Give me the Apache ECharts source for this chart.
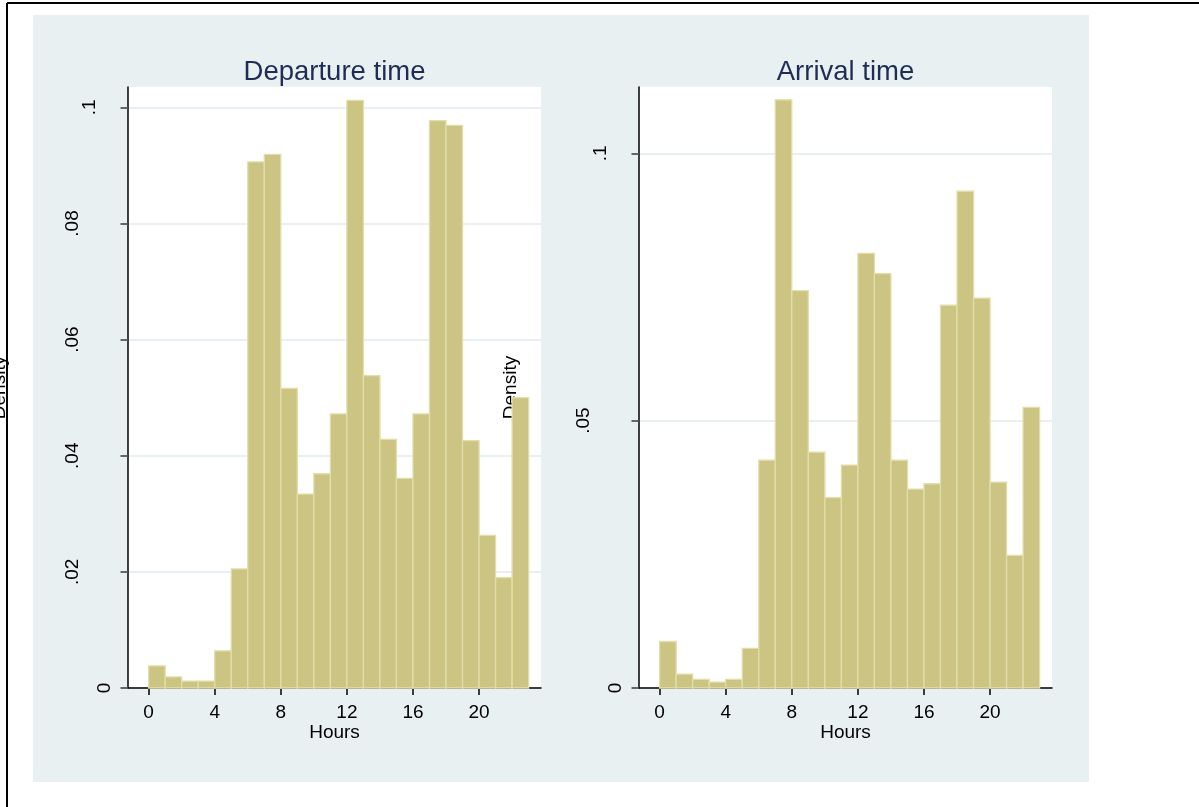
<!DOCTYPE html>
<html>
<head>
<meta charset="utf-8">
<script src="https://cdn.jsdelivr.net/npm/echarts@6/dist/echarts.min.js"></script>
<style>
  html, body { margin: 0; padding: 0; background: #ffffff; }
  #chart { width: 1199px; height: 807px; }
</style>
</head>
<body>
<div id="chart"></div>
<script>
// Hour bins: each bar covers [binEdges[i], binEdges[i + 1])
const binEdges = [0, 1, 2, 3, 4, 5, 6, 7, 8, 9, 10, 11, 12, 13, 14, 15, 16, 17, 18, 19, 20, 21, 22, 23];

// Density of trips per hour bin
const departureDensity = [0.0038, 0.0019, 0.0012, 0.0012, 0.0064, 0.0205, 0.0906, 0.0919, 0.0516, 0.0334, 0.0369, 0.0472,
                          0.1012, 0.0538, 0.0428, 0.0361, 0.0472, 0.0977, 0.0969, 0.0426, 0.0263, 0.0190, 0.0500];
const arrivalDensity   = [0.0087, 0.0026, 0.0016, 0.0011, 0.0016, 0.0074, 0.0426, 0.1100, 0.0743, 0.0441, 0.0356, 0.0417,
                          0.0813, 0.0775, 0.0426, 0.0372, 0.0382, 0.0716, 0.0929, 0.0729, 0.0385, 0.0248, 0.0525];

// Tick values
const hourTicks = [0, 4, 8, 12, 16, 20];
const departureTicks = [0, 0.02, 0.04, 0.06, 0.08, 0.1];
const arrivalTicks = [0, 0.05, 0.1];

// Text
const panelTitles = ['Departure time', 'Arrival time'];
const xTitle = 'Hours';
const yTitle = 'Density';

const FONT = 'Liberation Sans, Arial, Helvetica, sans-serif';
const BAR_FILL = '#CBC483';
const BAR_EDGE = '#E2DEA9';
const PANEL = '#E9F0F2';
const GRIDLINE = '#E9F0F3';

// Stata-style labels: ".1", ".08", "0"; rotated labels step outward with their length
function tickText(v) {
  const s = v === 0 ? '0' : String(+v.toFixed(4)).replace(/^0\./, '.');
  return '{c' + s.length + '|' + s + '}';
}
const tickRich = {
  c1: { lineHeight: 22, fontSize: 19, fontFamily: FONT, color: '#000' },
  c2: { lineHeight: 52, fontSize: 19, fontFamily: FONT, color: '#000' },
  c3: { lineHeight: 86, fontSize: 19, fontFamily: FONT, color: '#000' }
};

function binData(values) {
  return values.map((v, i) => [binEdges[i], binEdges[i + 1], v]);
}

function renderBar(params, api) {
  const top = api.coord([api.value(0), api.value(2)]);
  const base = api.coord([api.value(1), 0]);
  return {
    type: 'rect',
    shape: { x: top[0], y: top[1], width: base[0] - top[0], height: base[1] - top[1] },
    style: { fill: BAR_FILL, stroke: BAR_EDGE, lineWidth: 1.3 }
  };
}

const grids = [
  { left: 128, top: 87, width: 413, height: 601 },
  { left: 639, top: 87, width: 413, height: 601 }
].map(g => Object.assign(g, {
  show: true, backgroundColor: '#ffffff', borderWidth: 0,
  containLabel: false, outerBoundsMode: 'none'
}));

function xAxisFor(gridIndex) {
  return {
    type: 'value', gridIndex, min: -1.25, max: 23.75,
    name: xTitle, nameLocation: 'middle', nameGap: 35, nameMoveOverlap: false,
    nameTextStyle: { fontSize: 19, fontFamily: FONT, color: '#000' },
    axisLine: { show: true, onZero: false, lineStyle: { color: '#000', width: 1.5 } },
    axisTick: { show: true, length: 7, customValues: hourTicks, lineStyle: { color: '#000', width: 1.5 } },
    axisLabel: { customValues: hourTicks, fontSize: 19, fontFamily: FONT, color: '#000', margin: 15 },
    splitLine: { show: false }
  };
}

function yAxisFor(gridIndex, max, ticks) {
  return {
    type: 'value', gridIndex, min: 0, max,
    name: yTitle, nameLocation: 'middle', nameRotate: 90, nameGap: 119, nameMoveOverlap: false,
    nameTextStyle: { fontSize: 19, fontFamily: FONT, color: '#000' },
    axisLine: { show: true, onZero: false, lineStyle: { color: '#000', width: 1.5 } },
    axisTick: { show: true, length: 7.5, customValues: ticks, lineStyle: { color: '#555', width: 1.8 } },
    axisLabel: { customValues: ticks, rotate: 90, margin: 12, formatter: tickText, rich: tickRich },
    splitLine: { show: true, lineStyle: { color: GRIDLINE, width: 1.8 } }
  };
}

const option = {
  backgroundColor: '#ffffff',
  animation: false,
  graphic: [
    { type: 'rect', z: -100, shape: { x: 33, y: 15, width: 1056, height: 767 }, style: { fill: PANEL } },
    { type: 'line', z: 100, shape: { x1: 7, y1: 3, x2: 1199, y2: 3 }, style: { stroke: '#000', lineWidth: 2 } },
    { type: 'line', z: 100, shape: { x1: 7, y1: 3, x2: 7, y2: 807 }, style: { stroke: '#000', lineWidth: 2 } }
  ],
  title: panelTitles.map((t, i) => ({
    text: t,
    left: grids[i].left + grids[i].width / 2,
    top: 58,
    padding: 0,
    textAlign: 'center',
    textStyle: { fontSize: 27.5, fontWeight: 'normal', fontFamily: FONT, color: '#1E2D55' }
  })),
  grid: grids,
  xAxis: [xAxisFor(0), xAxisFor(1)],
  yAxis: [yAxisFor(0, 0.1035, departureTicks), yAxisFor(1, 0.1124, arrivalTicks)],
  series: [
    { type: 'custom', xAxisIndex: 0, yAxisIndex: 0, renderItem: renderBar,
      encode: { x: [0, 1], y: 2 }, data: binData(departureDensity) },
    { type: 'custom', xAxisIndex: 1, yAxisIndex: 1, renderItem: renderBar,
      encode: { x: [0, 1], y: 2 }, data: binData(arrivalDensity) }
  ]
};

const chart = echarts.init(document.getElementById('chart'), null, { renderer: 'canvas' });
chart.setOption(option);
</script>
</body>
</html>
